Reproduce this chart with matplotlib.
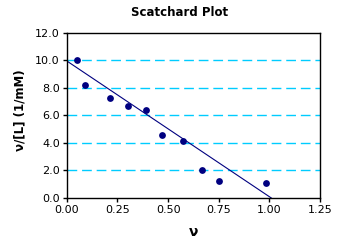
import matplotlib
matplotlib.use('Agg')
import matplotlib.pyplot as plt

# data
nu = [0.049, 0.089, 0.212, 0.300, 0.389, 0.469, 0.576, 0.670, 0.751, 0.986]
nu_over_L = [10.0, 8.2, 7.28, 6.70, 6.39, 4.57, 4.16, 2.03, 1.26, 1.11]
fit_x = [0.005, 1.01]
fit_y = [9.9, 0.0]
xticks = [0.0, 0.25, 0.5, 0.75, 1.0, 1.25]
yticks = [0.0, 2.0, 4.0, 6.0, 8.0, 10.0, 12.0]

fig = plt.figure(figsize=(3.5, 2.5), dpi=100)
fig.set_facecolor('white')
ax = fig.add_axes([0.191, 0.208, 0.723, 0.661])

# dashed cyan gridlines
for y in yticks[1:-1]:
    ax.axhline(y, color='#00CCFF', linewidth=1.0, dashes=(7, 3.5), zorder=1)

ax.plot(fit_x, fit_y, color='#000080', linewidth=0.8, zorder=2)
ax.scatter(nu, nu_over_L, s=24, color='#000080', zorder=3, linewidths=0)

ax.set_xlim(0, 1.25)
ax.set_ylim(0, 12)
ax.set_xticks(xticks)
ax.set_yticks(yticks)
ax.set_xticklabels(['%.2f' % t for t in xticks], fontsize=8)
ax.set_yticklabels(['%.1f' % t for t in yticks], fontsize=8)
ax.tick_params(direction='out', length=3, width=1, pad=2)
for s in ax.spines.values():
    s.set_linewidth(1.0)

ax.set_xlabel('ν', fontsize=10, fontweight='bold', labelpad=7)
ax.set_ylabel('ν/[L] (1/mM)', fontsize=8.5, fontweight='bold')
ax.yaxis.set_label_coords(-0.16, 0.53)
fig.text(180 / 350, 1 - 12 / 250, 'Scatchard Plot', ha='center', va='center',
         fontsize=8.5, fontweight='bold')

fig.savefig('out.png', dpi=100, facecolor='white')
